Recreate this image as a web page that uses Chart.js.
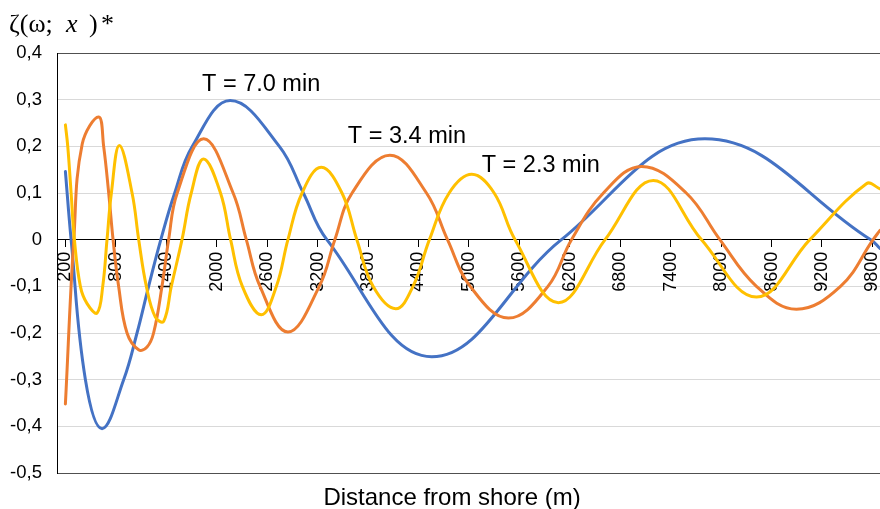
<!DOCTYPE html>
<html>
<head>
<meta charset="utf-8">
<script src="https://cdn.jsdelivr.net/npm/chart.js@4/dist/chart.umd.min.js"></script>
<style>
  html, body { margin: 0; padding: 0; background: #fff; }
  canvas { display: block; }
</style>
</head>
<body>
<canvas id="waveChart" width="880" height="509"></canvas>
<script>
// distances (m) and surface elevation
const blueDist = [200, 268, 438, 636, 893, 1052, 1190, 1335, 1500, 1710, 2160, 2745, 3030, 3310, 4558, 6100, 7807, 9780, 9890];
const blueVal = [0.146, 0, -0.3, -0.405, -0.3, -0.2, -0.1, 0, 0.1, 0.2, 0.298, 0.2, 0.1, 0, -0.251, 0, 0.216, 0, -0.019];

const orangeDist = [200, 300, 400, 596, 655, 715, 767, 833, 933, 1071, 1171, 1249, 1349, 1428, 1530, 1845, 2195, 2352, 2515, 2847, 3220, 3405, 3610, 4060, 4495, 4745, 5015, 5470, 5940, 6220, 6600, 7054, 7585, 7985, 8420, 8896, 9420, 9808, 9890];
const orangeVal = [-0.352, 0, 0.205, 0.263, 0.2, 0.1, 0, -0.1, -0.2, -0.236, -0.23, -0.2, -0.1, 0, 0.1, 0.216, 0.1, 0, -0.1, -0.198, -0.1, 0, 0.1, 0.181, 0.1, 0, -0.1, -0.168, -0.1, 0, 0.1, 0.157, 0.1, 0, -0.1, -0.149, -0.1, 0, 0.02];

const yellowDist = [200, 228, 268, 307, 378, 458, 577, 644, 695, 747, 842, 993, 1072, 1163, 1270, 1369, 1460, 1587, 1697, 1844, 2045, 2165, 2305, 2530, 2710, 2847, 3015, 3243, 3490, 3667, 3860, 4130, 4335, 4530, 4765, 5034, 5300, 5549, 6064, 6620, 7193, 7767, 8421, 9055, 9728, 9890];
const yellowVal = [0.246, 0.2, 0.1, 0, -0.1, -0.137, -0.157, -0.1, 0, 0.1, 0.202, 0.1, 0, -0.1, -0.166, -0.175, -0.1, 0, 0.1, 0.173, 0.1, 0, -0.1, -0.161, -0.1, 0, 0.1, 0.155, 0.1, 0, -0.1, -0.148, -0.1, 0, 0.1, 0.14, 0.1, 0, -0.135, 0, 0.127, 0, -0.123, 0, 0.12, 0.109];

const xTickLabels = [200, 800, 1400, 2000, 2600, 3200, 3800, 4400, 5000, 5600, 6200, 6800, 7400, 8000, 8600, 9200, 9800];

// curve labels, anchored in data space (left end of text, baseline)
const curveNames = ["T = 7.0 min", "T = 3.4 min", "T = 2.3 min"];
const nameDist = [1825, 3560, 5152];
const nameVal = [0.318, 0.208, 0.146];

const xTitle = "Distance from shore (m)";

Chart.defaults.font.family = "'Liberation Sans', Arial, sans-serif";
Chart.defaults.color = "#000";

const toPoints = (xs, ys) => xs.map((d, i) => ({ x: d, y: ys[i] }));

const textPlugin = {
    id: "texts",
    afterDatasetsDraw(chart) {
        const { ctx, scales } = chart;
        const x = scales.x;
        const y = scales.y;
        ctx.save();
        ctx.fillStyle = "#000";
        ctx.textBaseline = "alphabetic";
        ctx.textAlign = "left";

        // curve labels
        ctx.font = "23.5px 'Liberation Sans', Arial, sans-serif";
        curveNames.forEach((name, i) => {
            ctx.fillText(name, x.getPixelForValue(nameDist[i]), y.getPixelForValue(nameVal[i]));
        });

        // axis title below the plot
        ctx.font = "24px 'Liberation Sans', Arial, sans-serif";
        ctx.textAlign = "center";
        ctx.fillText(xTitle, x.getPixelForValue(4800), chart.height - 4);

        // y title: ζ(ω; x )*
        ctx.textAlign = "left";
        ctx.font = "26px 'Liberation Serif', 'Times New Roman', serif";
        ctx.fillText("ζ(ω;", 9, 32);
        ctx.font = "italic 26px 'Liberation Serif', 'Times New Roman', serif";
        ctx.fillText("x", 66, 32);
        ctx.font = "26px 'Liberation Serif', 'Times New Roman', serif";
        ctx.fillText(")", 89, 32);
        ctx.fillText("*", 101, 32);
        ctx.restore();
    },
};

const ctx = document.getElementById("waveChart").getContext("2d");

new Chart(ctx, {
    type: "line",
    data: {
        datasets: [
            {
                label: curveNames[0],
                data: toPoints(blueDist, blueVal),
                borderColor: "#4472C4",
                order: 3,
            },
            {
                label: curveNames[1],
                data: toPoints(orangeDist, orangeVal),
                borderColor: "#ED7D31",
                order: 2,
            },
            {
                label: curveNames[2],
                data: toPoints(yellowDist, yellowVal),
                borderColor: "#FFC000",
                order: 1,
            },
        ],
    },
    options: {
        responsive: false,
        animation: false,
        devicePixelRatio: 1,
        layout: { padding: { top: 53, bottom: 36, left: 0, right: 0 } },
        elements: {
            line: { borderWidth: 3, tension: 0.4, fill: false, borderCapStyle: "round", borderJoinStyle: "round" },
            point: { radius: 0, hoverRadius: 0 },
        },
        plugins: {
            legend: { display: false },
            tooltip: { enabled: false },
        },
        scales: {
            x: {
                type: "linear",
                position: { y: 0 },
                min: 100,
                max: 9890,
                afterBuildTicks: (s) => {
                    s.ticks = xTickLabels.map((v) => ({ value: v }));
                },
                afterFit: (s) => {
                    s.paddingLeft = 0;
                    s.paddingRight = 0;
                },
                ticks: {
                    autoSkip: false,
                    minRotation: 90,
                    maxRotation: 90,
                    padding: 5,
                    color: "#000",
                    font: { size: 18 },
                    callback: (v) => String(v),
                },
                grid: {
                    drawOnChartArea: false,
                    drawTicks: true,
                    tickLength: 7,
                    color: "#000",
                },
                border: { display: true, color: "#000", width: 1 },
            },
            y: {
                position: "left",
                min: -0.5,
                max: 0.4,
                afterFit: (s) => {
                    s.width = 57;
                    s.paddingTop = 0;
                    s.paddingBottom = 0;
                },
                ticks: {
                    stepSize: 0.1,
                    padding: 15,
                    color: "#000",
                    font: { size: 18.5 },
                    callback: (v) => {
                        if (Math.abs(v) < 1e-9) return "0";
                        return v.toFixed(1).replace(".", ",");
                    },
                },
                grid: {
                    drawTicks: false,
                    color: (c) => {
                        const v = c.tick ? c.tick.value : 0;
                        if (Math.abs(v) < 1e-9) return "rgba(0,0,0,0)";
                        if (Math.abs(v + 0.5) < 1e-9 || Math.abs(v - 0.4) < 1e-9) return "#505050";
                        return "#d9d9d9";
                    },
                },
                border: { display: true, color: "#000", width: 1 },
            },
        },
    },
    plugins: [textPlugin],
});
</script>
</body>
</html>
